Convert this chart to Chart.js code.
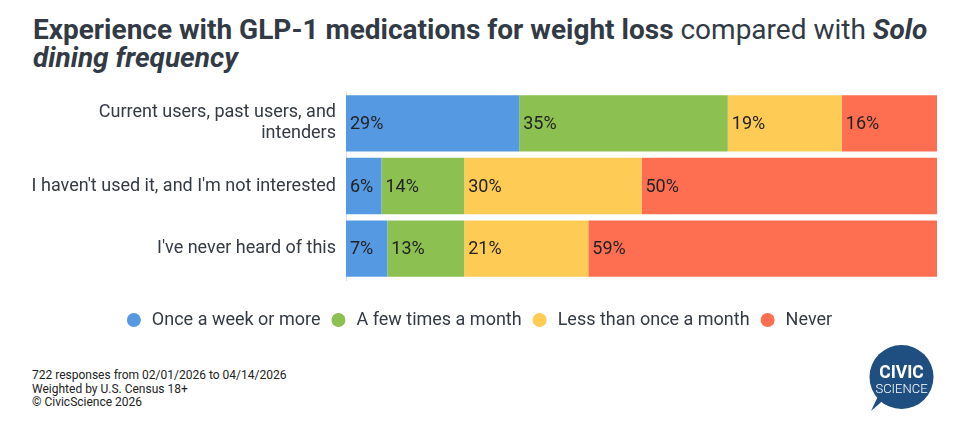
<!DOCTYPE html>
<html>
<head>
<meta charset="utf-8">
<script src="https://cdn.jsdelivr.net/npm/chart.js@4.4.1/dist/chart.umd.min.js"></script>
<style>
  body { margin: 0; background: #fff; font-family: Roboto, sans-serif; }
  #wrap { position: relative; width: 966px; height: 424px; overflow: hidden; }
  #title { position: absolute; left: 33px; top: 16px; width: 930px; font-size: 28px; line-height: 28px; color: #323a45; font-weight: 400; white-space: nowrap; }
  #title b { font-weight: 700; }
  #box { position: absolute; left: 0; top: 92px; width: 966px; height: 247px; }
  #foot { position: absolute; left: 32px; top: 369px; font-size: 12px; line-height: 13.6px; color: #222; }
  #logo { position: absolute; left: 860px; top: 335px; }
</style>
</head>
<body>
<div id="wrap">
  <div id="title"><b>Experience with GLP-1 medications for weight loss</b> compared with <b><i>Solo</i></b><br><b><i>dining frequency</i></b></div>
  <div id="box"><canvas id="stackChart"></canvas></div>
  <div id="foot">722 responses from 02/01/2026 to 04/14/2026<br>Weighted by U.S. Census 18+<br>© CivicScience 2026</div>
  <svg id="logo" width="80" height="80" viewBox="0 0 80 80">
    <path d="M11 76 L20 57 L27 62 Z" fill="#1f4e80"/>
    <circle cx="41.5" cy="42" r="32" fill="#1f4e80"/>
    <text x="41.5" y="43" text-anchor="middle" font-family="Roboto, sans-serif" font-weight="700" font-size="17.5" fill="#fff">CIVIC</text>
    <text x="41.5" y="57.5" text-anchor="middle" font-family="Roboto, sans-serif" font-weight="300" font-size="13" fill="#fff">SCIENCE</text>
  </svg>
</div>
<script>
// categories and series
const categories = [
  ['Current users, past users, and', 'intenders'],
  "I haven't used it, and I'm not interested",
  "I've never heard of this"
];
const seriesNames = ['Once a week or more', 'A few times a month', 'Less than once a month', 'Never'];
const onceWeek = [29.3, 6, 7];
const fewMonth = [35.3, 14, 13];
const lessMonth = [19.3, 30, 21];
const never = [16.1, 50, 59];
const colors = ['#5599e3', '#8cc152', '#fecb55', '#fe6f52'];

// draws the % text at the start of each segment
const barLabels = {
    id: 'barLabels',
    afterDatasetsDraw(chart) {
        const c = chart.ctx;
        c.save();
        c.font = '18px Roboto';
        c.fillStyle = '#222';
        c.textAlign = 'left';
        c.textBaseline = 'middle';
        chart.data.datasets.forEach(function(ds, i) {
            const meta = chart.getDatasetMeta(i);
            meta.data.forEach(function(bar, j) {
                c.fillText(Math.round(ds.data[j]) + '%', bar.base + 4, bar.y + 1);
            });
        });
        c.restore();
    }
};

const allSeries = [onceWeek, fewMonth, lessMonth, never];

new Chart(document.getElementById('stackChart').getContext('2d'), {
    type: 'bar',
    data: {
        labels: categories,
        datasets: allSeries.map(function(vals, i) {
            return {
                label: seriesNames[i],
                data: vals,
                backgroundColor: colors[i],
                borderWidth: 0,
                categoryPercentage: 1,
                barPercentage: 0.9
            };
        })
    },
    options: {
        indexAxis: 'y',
        responsive: true,
        maintainAspectRatio: false,
        animation: false,
        layout: { padding: { left: 20, right: 29, top: 0, bottom: 0 } },
        scales: {
            x: {
                stacked: true,
                min: 0,
                max: 100,
                grid: { display: false },
                border: { display: false },
                ticks: { display: false },
                afterFit: function(scale) { scale.height = 22; }
            },
            y: {
                stacked: true,
                grid: { display: false, drawTicks: false },
                border: { display: true, color: '#dddddd', width: 1 },
                ticks: {
                    padding: 10,
                    color: '#333a44',
                    font: { family: 'Roboto', size: 18, lineHeight: 1.17 }
                },
                afterFit: function(scale) {
                    scale.width = 326;
                    scale.paddingTop = 0;
                    scale.paddingBottom = 0;
                }
            }
        },
        plugins: {
            legend: {
                position: 'bottom',
                labels: {
                    usePointStyle: true,
                    pointStyle: 'circle',
                    boxWidth: 18,
                    boxHeight: 9.9,
                    padding: 9,
                    color: '#333a44',
                    font: { family: 'Roboto', size: 18 }
                }
            },
            tooltip: { enabled: false }
        }
    },
    plugins: [barLabels]
});
</script>
</body>
</html>
